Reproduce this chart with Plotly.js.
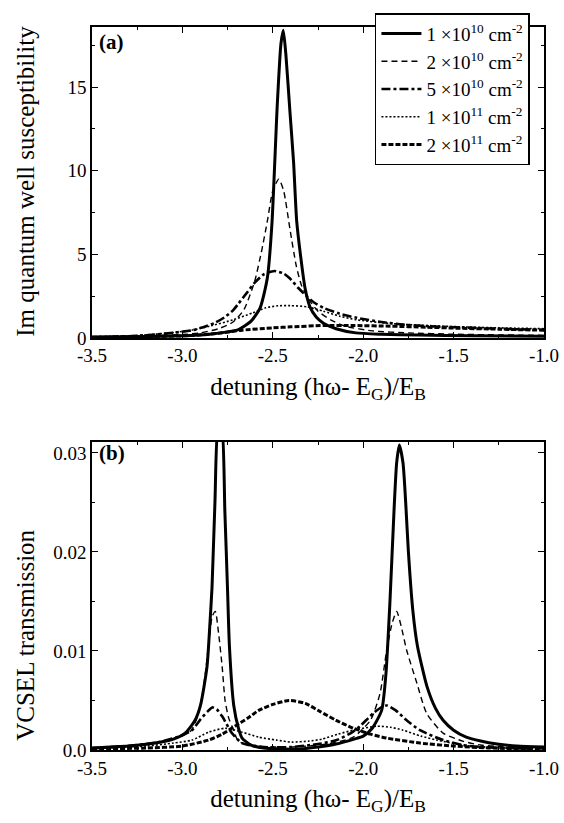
<!DOCTYPE html>
<html><head><meta charset="utf-8">
<script src="https://cdn.plot.ly/plotly-3.0.1.min.js"></script>
<style>html,body{margin:0;padding:0;background:#fff}</style>
</head><body><div id="chart" style="width:564px;height:823px"></div>
<script>
// ---- data ----
const seriesNames = ["1 \u00d710<sup>10</sup> cm<sup>-2</sup>","2 \u00d710<sup>10</sup> cm<sup>-2</sup>","5 \u00d710<sup>10</sup> cm<sup>-2</sup>","1 \u00d710<sup>11</sup> cm<sup>-2</sup>","2 \u00d710<sup>11</sup> cm<sup>-2</sup>"];
const xTickVals = [-3.5,-3.0,-2.5,-2.0,-1.5,-1.0];
const xTickText = ["-3.5","-3.0","-2.5","-2.0","-1.5","-1.0"];
const yTopTickVals = [0,5,10,15];
const yTopTickText = ["0","5","10","15"];
const yBotTickVals = [0,0.01,0.02,0.03];
const yBotTickText = ["0.0","0.01","0.02","0.03"];

// (a) Im quantum well susceptibility
const a1x = [-3.5,-3.2,-3.0,-2.85,-2.75,-2.69,-2.62,-2.57,-2.53,-2.505,-2.475,-2.455,-2.442,-2.428,-2.405,-2.385,-2.368,-2.345,-2.322,-2.294,-2.26,-2.22,-2.15,-2.04,-1.9,-1.7,-1.4,-1.0];
const a1y = [0.04,0.08,0.13,0.22,0.36,0.5,1.0,1.8,3.6,6.8,14.0,17.6,18.4,17.0,13.5,10.5,7.0,4.8,3.0,1.84,1.25,0.88,0.55,0.3,0.22,0.17,0.13,0.1];
const a2x = [-3.5,-3.2,-3.0,-2.9,-2.8,-2.72,-2.66,-2.6,-2.56,-2.53,-2.5,-2.467,-2.44,-2.405,-2.37,-2.34,-2.294,-2.25,-2.18,-2.1,-1.95,-1.75,-1.5,-1.0];
const a2y = [0.05,0.12,0.2,0.3,0.55,0.95,1.68,3.4,5.3,7.0,8.8,9.5,8.8,6.5,4.3,3.1,2.2,1.6,1.08,0.7,0.42,0.3,0.22,0.15];
const a3x = [-3.5,-3.3,-3.15,-3.04,-2.95,-2.89,-2.82,-2.765,-2.72,-2.69,-2.64,-2.6,-2.55,-2.49,-2.44,-2.405,-2.36,-2.313,-2.27,-2.22,-2.13,-2.036,-1.9,-1.76,-1.6,-1.39,-1.2,-1.0];
const a3y = [0.05,0.1,0.2,0.32,0.45,0.62,0.9,1.25,1.65,2.05,2.75,3.3,3.8,4.0,3.85,3.55,3.0,2.5,2.1,1.8,1.45,1.2,0.95,0.78,0.68,0.6,0.53,0.48];
const a4x = [-3.5,-3.3,-3.2,-3.05,-2.95,-2.85,-2.72,-2.61,-2.54,-2.47,-2.405,-2.31,-2.22,-2.13,-2.036,-1.85,-1.65,-1.48,-1.25,-1.0];
const a4y = [0.06,0.12,0.18,0.32,0.46,0.7,1.08,1.5,1.8,1.92,1.93,1.86,1.6,1.3,1.08,0.86,0.74,0.67,0.6,0.55];
const a5x = [-3.5,-3.2,-2.95,-2.8,-2.67,-2.5,-2.4,-2.22,-2.05,-1.85,-1.65,-1.48,-1.25,-1.0];
const a5y = [0.04,0.08,0.14,0.28,0.46,0.6,0.66,0.74,0.74,0.7,0.64,0.58,0.52,0.46];

// (b) VCSEL transmission
const b1x = [-3.5,-3.3,-3.15,-3.05,-2.985,-2.93,-2.9,-2.864,-2.847,-2.836,-2.82,-2.80,-2.785,-2.765,-2.75,-2.74,-2.716,-2.69,-2.67,-2.62,-2.55,-2.45,-2.35,-2.25,-2.15,-2.05,-2.0,-1.95,-1.898,-1.875,-1.852,-1.83,-1.815,-1.80,-1.78,-1.765,-1.75,-1.725,-1.70,-1.647,-1.60,-1.558,-1.5,-1.43,-1.35,-1.26,-1.15,-1.0];
const b1y = [0.0002,0.0004,0.0007,0.0011,0.0017,0.003,0.0045,0.0084,0.013,0.0165,0.025,0.033,0.033,0.024,0.016,0.0105,0.0045,0.0022,0.0012,0.0005,0.0002,0.0001,0.0001,0.0003,0.0006,0.0011,0.0014,0.0022,0.004,0.0075,0.015,0.024,0.029,0.0308,0.029,0.025,0.020,0.014,0.0105,0.0064,0.0042,0.003,0.002,0.0013,0.0009,0.0006,0.0004,0.0003];
const b2x = [-3.5,-3.3,-3.1,-3.0,-2.95,-2.92,-2.89,-2.87,-2.85,-2.835,-2.818,-2.80,-2.78,-2.764,-2.745,-2.726,-2.69,-2.6,-2.4,-2.2,-2.055,-1.96,-1.907,-1.87,-1.84,-1.815,-1.79,-1.76,-1.704,-1.649,-1.558,-1.45,-1.35,-1.0];
const b2y = [0.0002,0.0004,0.0009,0.0014,0.002,0.0032,0.0055,0.0082,0.0115,0.0135,0.014,0.0118,0.0084,0.005,0.0033,0.0024,0.0009,0.0004,0.0003,0.0006,0.0013,0.003,0.0057,0.0101,0.0128,0.014,0.0125,0.0101,0.0068,0.0037,0.0017,0.0009,0.0005,0.0002];
const b3x = [-3.5,-3.3,-3.13,-3.03,-2.947,-2.9,-2.86,-2.835,-2.81,-2.78,-2.726,-2.67,-2.55,-2.4,-2.25,-2.146,-2.06,-2.018,-1.945,-1.9,-1.87,-1.82,-1.76,-1.686,-1.558,-1.45,-1.35,-1.0];
const b3y = [0.0002,0.0004,0.0008,0.0013,0.002,0.0031,0.0039,0.0043,0.0041,0.0034,0.0017,0.0007,0.0003,0.0003,0.0006,0.001,0.0018,0.0024,0.0037,0.0043,0.0045,0.004,0.003,0.002,0.001,0.0005,0.0003,0.0001];
const b4x = [-3.5,-3.2,-3.05,-2.947,-2.855,-2.764,-2.67,-2.578,-2.48,-2.394,-2.3,-2.228,-2.14,-2.055,-1.925,-1.85,-1.78,-1.68,-1.594,-1.41,-1.2,-1.0];
const b4y = [0.0002,0.0004,0.0007,0.001,0.0018,0.0022,0.0018,0.0013,0.001,0.0008,0.0009,0.0011,0.0016,0.002,0.0024,0.0023,0.002,0.0014,0.001,0.0004,0.0002,0.0001];
const b5x = [-3.5,-3.2,-3.0,-2.855,-2.78,-2.71,-2.64,-2.578,-2.5,-2.41,-2.32,-2.24,-2.15,-2.055,-1.96,-1.87,-1.686,-1.5,-1.3,-1.0];
const b5y = [0.0001,0.0002,0.0004,0.001,0.0016,0.0024,0.0032,0.004,0.0046,0.005,0.0047,0.0039,0.003,0.0022,0.0016,0.0012,0.0007,0.0004,0.0002,0.0001];

// ---- styles ----
const styles = [
  {width:3, dash:"solid"},
  {width:1.4, dash:"6px,4px"},
  {width:2.6, dash:"9px,3px,3px,3px"},
  {width:1.6, dash:"2px,2px"},
  {width:3, dash:"5px,2px"}
];
const FONT = "Liberation Serif, serif";
const topX = [a1x,a2x,a3x,a4x,a5x], topY = [a1y,a2y,a3y,a4y,a5y];
const botX = [b1x,b2x,b3x,b4x,b5x], botY = [b1y,b2y,b3y,b4y,b5y];
const traces = [];
for (let i=0;i<5;i++){
  traces.push({x:topX[i], y:topY[i], xaxis:"x", yaxis:"y", type:"scatter", mode:"lines",
    name:seriesNames[i], showlegend:true, line:{color:"#000", width:styles[i].width, dash:styles[i].dash, shape:"spline", smoothing:0.6}});
}
for (let i=0;i<5;i++){
  traces.push({x:botX[i], y:botY[i], xaxis:"x2", yaxis:"y2", type:"scatter", mode:"lines",
    name:seriesNames[i], showlegend:false, line:{color:"#000", width:styles[i].width, dash:styles[i].dash, shape:"spline", smoothing:0.6}});
}
const xTitle = "detuning (h\u03c9- E<sub>G</sub>)/E<sub>B</sub>";
function xax(anchor){
  return {anchor:anchor, range:[-3.5,-1.0], tickvals:xTickVals, ticktext:xTickText,
    ticks:"inside", ticklen:6, tickwidth:1, tickcolor:"#000",
    minor:{dtick:0.25, tick0:-3.5, ticks:"inside", ticklen:3, tickcolor:"#000"},
    showline:true, linecolor:"#000", linewidth:1.5, mirror:"ticks", showgrid:false, zeroline:false,
    tickfont:{family:FONT, size:19, color:"#000"},
    title:{text:xTitle, font:{family:FONT, size:25, color:"#000"}, standoff:12}};
}
const layout = {
  width:564, height:823, margin:{l:92, r:20, t:27, b:73},
  paper_bgcolor:"#fff", plot_bgcolor:"#fff",
  font:{family:FONT, color:"#000"},
  xaxis: xax("y"),
  xaxis2: xax("y2"),
  yaxis:{domain:[0.570,1], anchor:"x", range:[0,18.6], tickvals:yTopTickVals, ticktext:yTopTickText,
    ticks:"inside", ticklen:6, tickcolor:"#000",
    minor:{dtick:2.5, tick0:0, ticks:"inside", ticklen:3, tickcolor:"#000"},
    showline:true, linecolor:"#000", linewidth:1.5, mirror:"ticks", showgrid:false, zeroline:false,
    tickfont:{family:FONT, size:19, color:"#000"}},
  yaxis2:{domain:[0,0.426], anchor:"x2", range:[0,0.0311], tickvals:yBotTickVals, ticktext:yBotTickText,
    ticks:"inside", ticklen:6, tickcolor:"#000",
    minor:{dtick:0.005, tick0:0, ticks:"inside", ticklen:3, tickcolor:"#000"},
    showline:true, linecolor:"#000", linewidth:1.5, mirror:"ticks", showgrid:false, zeroline:false,
    tickfont:{family:FONT, size:19, color:"#000"}},
  showlegend:true,
  legend:{x:0.626, y:1.019, xanchor:"left", yanchor:"top", bgcolor:"#fff", bordercolor:"#000", borderwidth:1.5,
    font:{family:FONT, size:19, color:"#000"}, tracegroupgap:0, itemwidth:40},
  annotations:[
    {text:"Im quantum well susceptibility", xref:"paper", yref:"paper", x:-0.146, y:0.786, textangle:-90,
     showarrow:false, xanchor:"center", yanchor:"middle", font:{family:FONT, size:25, color:"#000"}},
    {text:"VCSEL transmission", xref:"paper", yref:"paper", x:-0.146, y:0.158, textangle:-90,
     showarrow:false, xanchor:"center", yanchor:"middle", font:{family:FONT, size:25, color:"#000"}},
    {text:"<b>(a)</b>", xref:"paper", yref:"paper", x:0.012, y:0.979, showarrow:false, xanchor:"left", yanchor:"middle",
     font:{family:FONT, size:21, color:"#000"}},
    {text:"<b>(b)</b>", xref:"paper", yref:"paper", x:0.012, y:0.411, showarrow:false, xanchor:"left", yanchor:"middle",
     font:{family:FONT, size:21, color:"#000"}}
  ]
};
Plotly.newPlot("chart", traces, layout, {displayModeBar:false});
</script></body></html>
